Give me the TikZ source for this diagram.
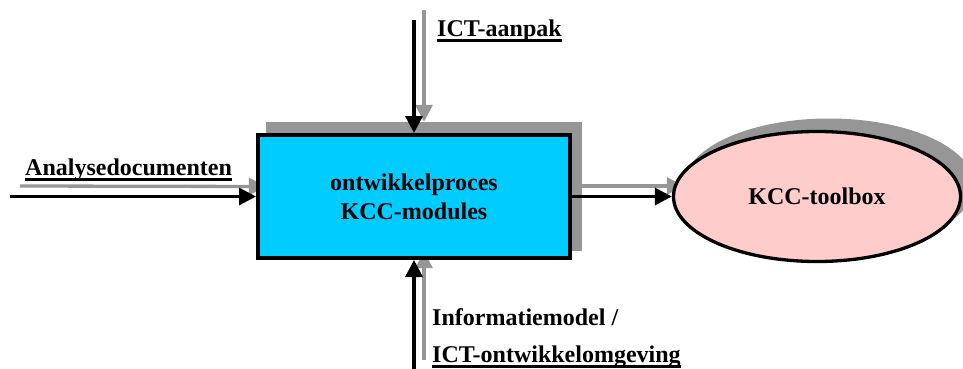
\documentclass[tikz,border=0pt]{standalone}
\usepackage{fontspec}
\setmainfont{Liberation Serif}
\usetikzlibrary{arrows.meta,shapes.geometric}
\definecolor{shadowgray}{RGB}{150,150,150}
\definecolor{boxcyan}{RGB}{0,204,255}
\definecolor{ellpink}{RGB}{255,204,204}
\newcommand\myul[1]{\setbox0=\hbox{#1}\rlap{\rule[-5.5pt]{\wd0}{3pt}}\box0}
\begin{document}
\begin{tikzpicture}[x=1pt,y=-1pt,
  font=\fontsize{24}{29}\selectfont\bfseries,
  blackarrow/.style={line width=3.3pt,-{Triangle[length=17pt,width=17pt]}},
  grayarrow/.style={draw=shadowgray,line width=3.3pt,-{Triangle[length=17pt,width=17pt]},color=shadowgray},
  lbl/.style={anchor=base west,inner sep=0pt}]
\useasboundingbox (0,0) rectangle (963,369);
% shadows
\node[fill=shadowgray,draw=none,minimum width=316pt,minimum height=129pt,inner sep=0pt] (boxshadow) at (424,186.5) {};
\node[ellipse,fill=shadowgray,draw=none,minimum width=290pt,minimum height=133pt,inner sep=0pt] (ellshadow) at (829,185) {};
% free ends
\coordinate (lg) at (20,186);
\coordinate (tg) at (424,10);
\coordinate (bg) at (424,360);
\coordinate (lb) at (10,196.5);
\coordinate (tb) at (414,20);
\coordinate (bb) at (414,369);
% gray arrows
\draw[grayarrow] (lg) -- (boxshadow.west);
\draw[grayarrow] (tg) -- (boxshadow.north);
\draw[grayarrow] (bg) -- (boxshadow.south);
\draw[grayarrow] (boxshadow.east |- 0,186) -- (ellshadow.west |- 0,186);
% main nodes
\node[draw,line width=4pt,fill=boxcyan,minimum width=312pt,minimum height=123pt,inner sep=0pt,align=center] (box) at (414,196.5) {ontwikkelproces\\KCC-modules};
\node[ellipse,draw,line width=3.3pt,fill=ellpink,minimum width=287pt,minimum height=130pt,inner sep=0pt] (ell) at (817,196.5) {KCC-toolbox};
% black arrows
\draw[blackarrow] (lb) -- (box.west);
\draw[blackarrow] (tb) -- (box.north);
\draw[blackarrow] (bb) -- (box.south);
\draw[blackarrow] (box.east) -- (ell.west);
% labels
\node[lbl] (ana) at (25,175) {\myul{Analysedocumenten}};
\node[lbl] (ict) at (437,37) {\myul{ICT-aanpak}};
\node[lbl] (inf) at (432,325) {Informatiemodel /};
\node[lbl] (ictow) at (432,362) {\myul{ICT-ontwikkelomgeving}};
\end{tikzpicture}
\end{document}
